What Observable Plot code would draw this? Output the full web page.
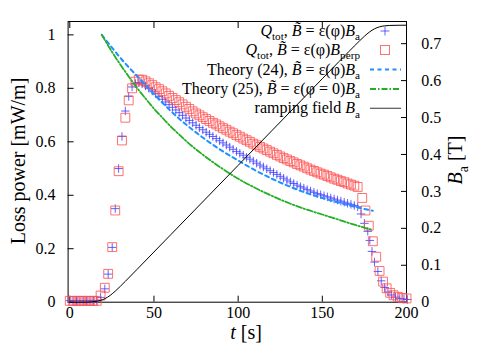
<!DOCTYPE html>
<html><head><meta charset="utf-8">
<script src="https://cdn.jsdelivr.net/npm/d3@7"></script>
<script src="https://cdn.jsdelivr.net/npm/@observablehq/plot@0.6"></script>
<style>body{margin:0;background:#fff}#chart{width:500px;height:350px}</style>
</head><body><div id="chart"></div>
<script>
// ---- data ----
const timeSq = [0,2,4,6,8,10,12,14,16,18.3,20.8,22.8,25.2,27,29,31,33,35,37,
39,41,43,45,47,49,51,53,55,57,59,61,63,65,67,69,71,73,75,77,79,81,83,85,87,89,91,93,95,97,
99,101,103,105,107,109,111,113,115,117,119,121,123,125,127,129,131,133,135,137,139,141,143,145,147,149,
151,153,155,157,159,161,163,165,167,169,171,173.7,175.6,177.6,180,182,184,186.1,188.2,190.3,192.3,194.8,197.5,200];
const lossSq = [0.005,0.005,0.005,0.005,0.005,0.005,0.005,0.005,0.005,0.025,0.054,0.106,0.206,0.343,0.49,0.605,0.69,0.755,0.80,
0.825,0.833,0.832,0.826,0.819,0.812,0.804,0.797,0.789,0.781,0.772,0.764,0.756,0.748,0.740,0.731,0.723,0.714,0.706,0.699,
0.692,0.685,0.678,0.671,0.665,0.658,0.651,0.645,0.638,0.632,0.625,0.619,0.612,0.606,0.600,0.593,0.587,0.581,0.575,0.569,
0.563,0.557,0.551,0.545,0.539,0.534,0.528,0.523,0.517,0.512,0.507,0.501,0.496,0.491,0.486,0.481,0.477,0.472,0.467,0.462,
0.458,0.453,0.449,0.444,0.440,0.436,0.431,0.39,0.343,0.286,0.228,0.17,0.117,0.077,0.052,0.035,0.026,0.02,0.016,0.014];

const timePlus = [0,2,4,6,8,10,12,14,16,18.3,20.8,22.8,25.2,27,29,31,33,35,37,
39,41,43,45,47,49,51,53,55,57,59,61,63,65,67,69,71,73,75,77,79,81,83,85,87,89,91,93,95,97,
99,101,103,105,107,109,111,113,115,117,119,121,123,125,127,129,131,133,135,137,139,141,143,145,147,149,
151,153,155,157,159,161,163,165,167,169,171,173,175,177,178.2,179.5,181,183,185,187,189,191,193.5,196,198.5,200.5];
const lossPlus = [0.006,0.006,0.006,0.006,0.006,0.006,0.006,0.006,0.006,0.018,0.05,0.105,0.205,0.35,0.50,0.62,0.715,0.77,0.805,
0.818,0.822,0.817,0.809,0.800,0.790,0.780,0.770,0.759,0.749,0.739,0.729,0.719,0.709,0.699,0.689,0.680,0.671,0.662,0.653,
0.645,0.636,0.628,0.620,0.612,0.604,0.596,0.588,0.580,0.572,0.564,0.557,0.550,0.542,0.535,0.528,0.520,0.513,0.506,0.499,
0.492,0.485,0.478,0.471,0.464,0.457,0.450,0.444,0.438,0.432,0.427,0.421,0.416,0.411,0.406,0.402,0.398,0.394,0.390,0.386,
0.382,0.378,0.374,0.370,0.366,0.362,0.357,0.33,0.295,0.265,0.231,0.19,0.15,0.115,0.08,0.055,0.038,0.027,0.019,0.014,0.012,0.01];

const timeTh24 = [19,23,27,31,35,40,45,50,55,60,65,70,76,82,90,100,110,120,130,140,150,160,170,180];
const lossTh24 = [1.0,0.968,0.937,0.907,0.879,0.846,0.812,0.778,0.746,0.715,0.686,0.66,0.63,0.602,0.568,0.53,0.494,0.462,0.434,0.41,0.39,0.372,0.356,0.342];

const timeTh25 = [19,25,30,35,40,45,50,55,60,65,70,80,90,100,110,120,130,140,150,160,170,180];
const lossTh25 = [1.0,0.937,0.889,0.844,0.801,0.762,0.724,0.690,0.657,0.627,0.598,0.547,0.502,0.462,0.428,0.398,0.371,0.348,0.328,0.308,0.288,0.27];

const timeRamp = [0,10,12,15,18,21,24,27,30,33,40,60,80,100,120,140,160,166,169,172,175,178,181,184,187,190,200];
const fieldRamp = [0,0.0002,0.0007,0.0018,0.0044,0.0098,0.0185,0.0299,0.0429,0.0565,0.0891,0.1829,0.2767,0.3705,0.4643,0.5581,0.6519,0.6796,0.6935,0.7071,0.7201,0.7315,0.7402,0.7456,0.7482,0.7493,0.75];

const xTicks = [0,50,100,150,200];
const yTicks = [0,0.2,0.4,0.6,0.8,1];
const y2Ticks = [0,0.1,0.2,0.3,0.4,0.5,0.6,0.7];

const xLabel = [["t","i"],[" [s]"]];
const yLabel = [["Loss power [mW/m]"]];
const y2Label = [["B","i"],["a","sub"],[" [T]"]];
const legendTexts = [
  [["Q","i"],["tot","sub"],[", "],["B\u0303","i"],[" = ε(φ)"],["B","i"],["a","sub"]],
  [["Q","i"],["tot","sub"],[", "],["B\u0303","i"],[" = ε(φ)"],["B","i"],["perp","sub"]],
  [["Theory (24), "],["B\u0303","i"],[" = ε(φ)"],["B","i"],["a","sub"]],
  [["Theory (25), "],["B\u0303","i"],[" = ε(φ = 0)"],["B","i"],["a","sub"]],
  [["ramping field "],["B","i"],["a","sub"]]
];

// ---- styles ----
const serif = "'Liberation Serif', 'Times New Roman', serif";
const cPlus = "#3c3cff", cSq = "#ff4d4d", c24 = "#1e90ff", c25 = "#22b022";
const k = 1.05 / 0.76; // left-axis units per right-axis unit

const sq = timeSq.map((t, i) => ({t, v: lossSq[i]}));
const pl = timePlus.map((t, i) => ({t, v: lossPlus[i]}));
const th24 = timeTh24.map((t, i) => ({t, v: lossTh24[i]}));
const th25 = timeTh25.map((t, i) => ({t, v: lossTh25[i]}));
const ramp = timeRamp.map((t, i) => ({t, b: fieldRamp[i]}));

const plot = Plot.plot({
  width: 500, height: 350,
  marginLeft: 67.6, marginRight: 94, marginTop: 21, marginBottom: 48.3,
  x: {domain: [-1, 200]},
  y: {domain: [0, 1.05]},
  style: {fontFamily: serif, fontSize: "16px", color: "black", background: "white", overflow: "visible"},
  marks: [
    Plot.axisX(xTicks, {anchor: "bottom", tickSize: -6, tickPadding: 10, tickFormat: d => String(d), label: null, fontFamily: serif}),
    Plot.axisX(xTicks, {anchor: "top", tickSize: -6, tickFormat: () => "", label: null}),
    Plot.axisY(yTicks, {anchor: "left", tickSize: -6, tickPadding: 18.6, tickFormat: d => String(d), label: null, fontFamily: serif}),
    Plot.axisY(y2Ticks, {anchor: "right", y: d => d * k, tickSize: -6, tickPadding: 20.7, tickFormat: d => String(d), label: null, fontFamily: serif}),
    Plot.frame({stroke: "black", strokeWidth: 1}),
    Plot.dot(pl, {x: "t", y: "v", symbol: "plus", r: 2.85, stroke: cPlus, strokeWidth: 1, strokeOpacity: 0.8}),
    Plot.dot(sq, {x: "t", y: "v", symbol: "square", r: 5, stroke: cSq, strokeWidth: 1, strokeOpacity: 0.8, fill: "none"}),
    Plot.line(th24, {x: "t", y: "v", stroke: c24, strokeWidth: 2, strokeDasharray: "4,3.5", curve: "monotone-x"}),
    Plot.line(th25, {x: "t", y: "v", stroke: c25, strokeWidth: 1.8, strokeDasharray: "6,2,1.5,2", curve: "monotone-x"}),
    Plot.line(ramp, {x: "t", y: d => d.b * k, stroke: "black", strokeWidth: 1, curve: "monotone-x"})
  ]
});
document.getElementById("chart").appendChild(plot);

// ---- rich text helper ----
const svg = d3.select(plot);
function richText(g, parts, x, y, size, anchor, transform) {
  const t = g.append("text").attr("x", x).attr("y", y)
    .attr("text-anchor", anchor).attr("font-size", size).attr("fill", "black")
    .style("font-family", serif);
  if (transform) t.attr("transform", transform);
  let shifted = 0;
  parts.forEach(([s, m]) => {
    const sp = t.append("tspan").text(s);
    if (m === "i") sp.attr("font-style", "italic");
    if (m === "sub") {
      sp.attr("font-size", size * 0.7).attr("dy", size * 0.28);
      shifted = size * 0.28;
    } else if (shifted) {
      sp.attr("dy", -shifted);
      shifted = 0;
    }
  });
  return t;
}

// axis labels
const lab = svg.append("g");
richText(lab, yLabel, 0, 0, 20, "middle", "translate(25,161) rotate(-90)");
richText(lab, xLabel, 246, 339, 20, "middle");
richText(lab, y2Label, 0, 0, 20, "middle", "translate(462,160) rotate(-90)");

// legend
const lg = svg.append("g");
const rowY = [31, 50, 69.5, 89, 108.3];
legendTexts.forEach((p, i) => richText(lg, p, 360, rowY[i] + 5, 16, "end"));
lg.append("path").attr("d", `M380.5,${rowY[0]}h9M385,${rowY[0]-4.5}v9`).attr("stroke", cPlus).attr("stroke-opacity", 0.8).attr("fill", "none");
lg.append("rect").attr("x", 380.5).attr("y", rowY[1] - 4.5).attr("width", 9).attr("height", 9).attr("stroke", cSq).attr("stroke-opacity", 0.8).attr("fill", "none");
lg.append("path").attr("d", `M370,${rowY[2]}H401`).attr("stroke", c24).attr("stroke-width", 2).attr("stroke-dasharray", "4,3.5");
lg.append("path").attr("d", `M370,${rowY[3]}H401`).attr("stroke", c25).attr("stroke-width", 1.8).attr("stroke-dasharray", "6,2,1.5,2");
lg.append("path").attr("d", `M370,${rowY[4]}H401`).attr("stroke", "#555").attr("stroke-width", 1.2);
</script>
</body></html>
